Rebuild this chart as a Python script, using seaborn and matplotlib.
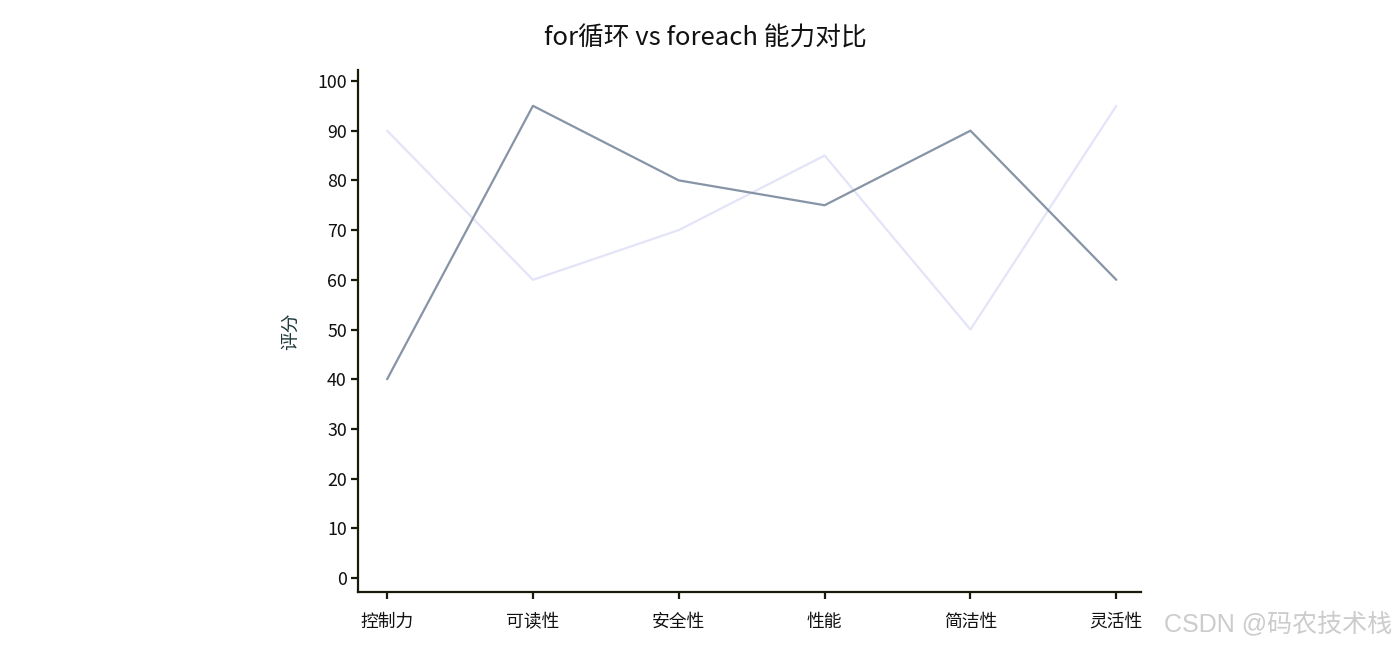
import matplotlib
matplotlib.use("Agg")
import matplotlib.pyplot as plt
import pandas as pd
import seaborn as sns

# data
categories = ["控制力", "可读性", "安全性", "性能", "简洁性", "灵活性"]
for_scores = [90, 60, 70, 85, 50, 95]
foreach_scores = [40, 95, 80, 75, 90, 60]
yticks = [0, 10, 20, 30, 40, 50, 60, 70, 80, 90, 100]

sns.set_theme(style="white")
plt.rcParams["font.family"] = ["Noto Sans CJK SC", "DejaVu Sans"]

df = pd.DataFrame({
    "pos": list(range(len(categories))) * 2,
    "score": for_scores + foreach_scores,
    "series": ["for"] * len(categories) + ["foreach"] * len(categories),
})

fig = plt.figure(figsize=(13.96, 6.46), dpi=100)
ax = fig.add_axes([0.2564, 0.0836, 0.561, 0.808])

sns.lineplot(
    data=df, x="pos", y="score", hue="series",
    palette={"for": "#e4e4f9", "foreach": "#8794a6"},
    linewidth=1.6, legend=False, ax=ax, sort=False,
)

ax.set_xlim(-0.2, 5.17)
ax.set_ylim(-2.8, 102.2)
ax.set_xticks(range(len(categories)))
ax.set_xticklabels(categories)
ax.set_yticks(yticks)
ax.set_xlabel("")
ax.set_ylabel("评分", fontsize=13.5, color="#1f3a3a", labelpad=12)

for side in ["top", "right"]:
    ax.spines[side].set_visible(False)
for side in ["left", "bottom"]:
    ax.spines[side].set_color("#1a1a0a")
    ax.spines[side].set_linewidth(1.6)
ax.tick_params(axis="both", direction="out", length=5, width=1.6,
               color="#1a1a0a", labelsize=12.8, labelcolor="#111111",
               left=True, bottom=True)
ax.tick_params(axis="x", pad=10)
ax.tick_params(axis="y", pad=3)

fig.text(0.505, 0.94, "for循环 vs foreach 能力对比", ha="center", va="center",
         fontsize=18.5, color="#111111")
fig.text(0.997, 0.035, "CSDN @码农技术栈", ha="right", va="center",
         fontsize=18, color="#cccccc", family=["Liberation Sans", "Noto Sans CJK SC"])

fig.savefig("out.png", dpi=100)
